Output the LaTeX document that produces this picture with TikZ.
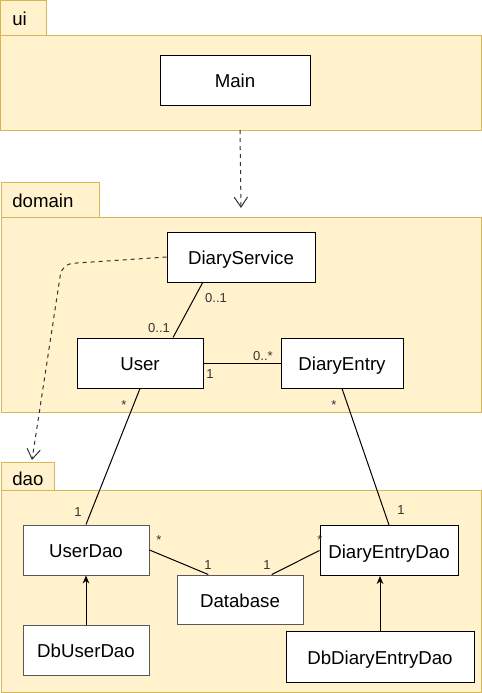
\documentclass[tikz,border=0pt]{standalone}
\usepackage{fontspec}
\setmainfont{Liberation Sans}
\usetikzlibrary{arrows.meta, positioning, calc}

\definecolor{pkgfill}{HTML}{FFF2CC}
\definecolor{pkgline}{HTML}{D6B656}

\begin{document}
\begin{tikzpicture}[x=0.75pt, y=-0.75pt,
  pkg/.style={draw=pkgline, fill=pkgfill, line width=0.75pt},
  cls/.style={draw=black, fill=white, line width=0.75pt, minimum height=37.5pt,
    inner sep=0pt, text height=11.5pt, text depth=0pt, font=\fontsize{14}{16}\selectfont},
  pkgname/.style={anchor=base west, inner sep=0pt, font=\fontsize{14}{16}\selectfont},
  mult/.style={inner sep=0pt, text=black!80, font=\fontsize{9.75}{11}\selectfont},
  assoc/.style={draw=black, line width=0.75pt},
  dep/.style={draw=black!80, dashed, line width=0.75pt,
    -{Straight Barb[length=7.5pt, width=10pt]}},
  inherit/.style={draw=black, line width=0.75pt, -{Stealth[length=6pt, width=5pt]}}]

  \useasboundingbox (0,0) rectangle (482,693);

  % Packages
  \draw[pkg] (0.5,0.5) rectangle (46,35);
  \draw[pkg] (0.5,35) rectangle (481.5,130);
  \draw[pkg] (1,182) rectangle (99,217);
  \draw[pkg] (1,217) rectangle (481.5,412);
  \draw[pkg] (1,462) rectangle (54,490);
  \draw[pkg] (1,490) rectangle (481.5,692.5);

  \node[pkgname] (uiname) at (12,25) {ui};
  \node[pkgname] (domainname) at (12,207) {domain};
  \node[pkgname] (daoname) at (12,485) {dao};

  % Classes
  \node[cls, minimum width=112.5pt] (main) at (235,80) {Main};
  \node[cls, minimum width=111pt] (service) at (241,257) {DiaryService};
  \node[cls, minimum width=94.5pt] (user) at (140,363) {User};
  \node[cls, minimum width=91.5pt] (entry) at (342,363) {DiaryEntry};
  \node[cls, minimum width=94.5pt, draw=black!65] (userdao) at (86,550) {UserDao};
  \node[cls, minimum width=103.5pt] (entrydao) at (389,550.5) {DiaryEntryDao};
  \node[cls, minimum width=94.5pt, minimum height=36.75pt, draw=black!65] (database) at (240,599.5) {Database};
  \node[cls, minimum width=94.5pt, draw=black!65] (dbuserdao) at (86,650) {DbUserDao};
  \node[cls, minimum width=141pt, minimum height=38.25pt] (dbentrydao) at (380,656.5) {DbDiaryEntryDao};

  % Dependencies between packages
  \coordinate (uibottom) at (240,130);
  \coordinate (domaintop) at (241,208);
  \coordinate (bend) at (62,264);
  \coordinate (daotop) at (32,460);
  \draw[dep] (uibottom) -- (domaintop);
  \draw[dep, rounded corners=8pt] (service.west) -- (bend) -- (daotop);

  % Associations
  \draw[assoc] ($(service.south west)!0.243!(service.south east)$) -- ($(user.north west)!0.76!(user.north east)$);
  \draw[assoc] (user.east) -- (entry.west);
  \draw[assoc] (user.south) -- (userdao.north);
  \draw[assoc] (entry.south) -- (entrydao.north);
  \draw[assoc] (userdao.east) -- ($(database.north west)!0.25!(database.north east)$);
  \draw[assoc] ($(database.north west)!0.75!(database.north east)$) -- (entrydao.west);

  % Realizations
  \draw[inherit] (dbuserdao.north) -- (userdao.south);
  \draw[inherit] (dbentrydao.north) -- (dbentrydao.north |- entrydao.south);

  % Multiplicities
  \foreach \pos/\txt in {{(216,298)}/0..1, {(159,328)}/0..1, {(263,356)}/0..*,
      {(210,374)}/1, {(124,405)}/*, {(334,405)}/*, {(78,512)}/1, {(401,510)}/1,
      {(159,540)}/*, {(208,565)}/1, {(267,565)}/1, {(320,540)}/*} {
    \node[mult] at \pos {\txt};
  }
\end{tikzpicture}
\end{document}
